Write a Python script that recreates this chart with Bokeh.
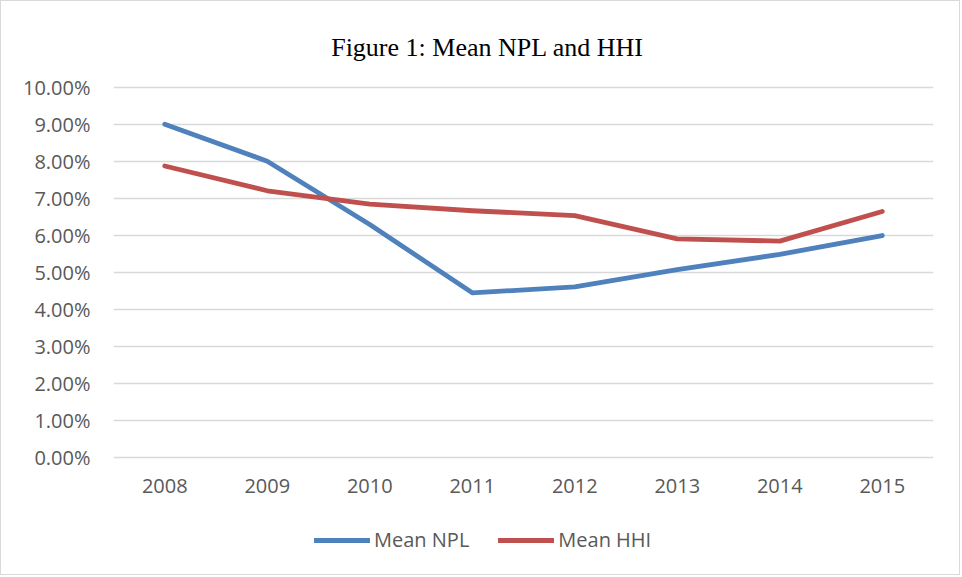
from bokeh.plotting import figure
from bokeh.models import (FactorRange, Range1d, FixedTicker, PrintfTickFormatter,
                          Legend, LegendItem, Label, ColumnDataSource)
from bokeh.embed import file_html
from bokeh.resources import INLINE

years = ["2008", "2009", "2010", "2011", "2012", "2013", "2014", "2015"]
mean_npl = [9.00, 8.00, 6.29, 4.44, 4.60, 5.07, 5.48, 5.99]
mean_hhi = [7.87, 7.20, 6.84, 6.66, 6.53, 5.90, 5.84, 6.64]
y_ticks = [0, 1, 2, 3, 4, 5, 6, 7, 8, 9, 10]

TEXT = "#595959"
GRID = "#d9d9d9"
BLUE = "#4F81BD"
RED = "#C0504D"

src = ColumnDataSource(dict(year=years, npl=mean_npl, hhi=mean_hhi))

# The frame covers the whole canvas height; the x axis sits at y = 0 and the
# title / legend live inside the frame above and below the plotting region.
p = figure(width=960, height=575, output_backend="svg", toolbar_location=None,
           x_range=FactorRange(*years, range_padding=0),
           y_range=Range1d(-3.228, 12.317),
           min_border_left=112, min_border_right=28,
           min_border_top=0, min_border_bottom=0)
p.title = None
p.outline_line_color = None
p.background_fill_color = "white"
p.border_fill_color = "white"
p.styles = {"border": "1px solid #d9d9d9"}

# axes
p.yaxis.ticker = FixedTicker(ticks=y_ticks)
p.yaxis.formatter = PrintfTickFormatter(format="%.2f%%")
for ax in (p.xaxis[0], p.yaxis[0]):
    ax.axis_line_color = None
    ax.major_tick_line_color = None
    ax.minor_tick_line_color = None
    ax.major_tick_out = 0
    ax.major_tick_in = 0
    ax.minor_tick_out = 0
    ax.major_label_text_font = "Open Sans"
    ax.major_label_text_font_size = "20px"
    ax.major_label_text_color = TEXT
p.yaxis.major_label_standoff = 23
p.xaxis.fixed_location = 0
p.xaxis.major_label_standoff = 22

p.xgrid.grid_line_color = None
p.ygrid.ticker = FixedTicker(ticks=y_ticks)
p.ygrid.grid_line_color = GRID
p.ygrid.grid_line_width = 1.3

r_npl = p.line("year", "npl", source=src, line_color=BLUE, line_width=4.8,
               line_cap="round", line_join="round")
r_hhi = p.line("year", "hhi", source=src, line_color=RED, line_width=4.8,
               line_cap="round", line_join="round")

legend = Legend(items=[LegendItem(label="Mean NPL", renderers=[r_npl]),
                       LegendItem(label="Mean HHI", renderers=[r_hhi])],
                orientation="horizontal", location=(201, 23),
                glyph_width=56, glyph_height=20, label_standoff=4, spacing=29,
                padding=0, margin=0, border_line_color=None,
                background_fill_alpha=0,
                label_text_font="Open Sans", label_text_font_size="20px",
                label_text_color=TEXT)
p.add_layout(legend, "center")

title = Label(x=3.649, y=11.065, text="Figure 1: Mean NPL and HHI",
              text_align="center", text_baseline="alphabetic",
              text_font="Liberation Serif", text_font_size="26px",
              text_color="black")
p.add_layout(title)

open("out.html", "w").write(file_html(p, INLINE))
